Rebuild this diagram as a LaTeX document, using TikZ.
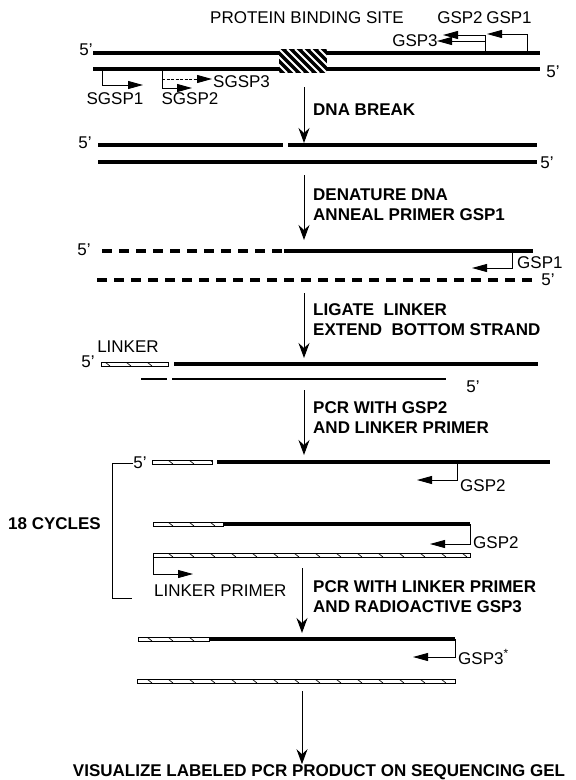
\documentclass[tikz,border=0pt]{standalone}
\usepackage{fontspec}
\setmainfont{Liberation Sans}
\usetikzlibrary{arrows.meta,positioning}
\definecolor{ink}{HTML}{000000}
\newcommand\linkerbar[3]{\draw[linkerbox] (#1,#3-2) rectangle (#2,#3+2);
\begin{scope}\clip (#1,#3-2) rectangle (#2,#3+2);\foreach \t in {0,21,...,580}{\draw[ink,line width=0.7pt] (\t,#3-2)--(\t+5,#3+2);}\end{scope}}

\begin{document}
\begin{tikzpicture}[x=1pt,y=-1pt,every node/.style={inner sep=0pt,font=\fontsize{17}{20}\selectfont},
bold/.style={font=\fontsize{17}{20}\selectfont\bfseries,align=left,anchor=west},
strand/.style={ink,line width=3.4pt},dashes/.style={dash pattern=on 10pt off 7pt},
thin/.style={ink,line width=0.9pt},primer/.style={ink,line width=0.9pt,-{Triangle[length=15pt,width=8pt]}},
flow/.style={ink,line width=1pt,-{Stealth[length=15pt,width=11pt,inset=5pt]}},
linkerbox/.style={draw=ink,fill=white,line width=0.8pt}]
\useasboundingbox (0,0) rectangle (576,780);
\draw[strand] (93,53)--(540,53);\draw[strand] (93,69)--(540,69);
\fill[ink] (279,49) rectangle (327,73);
\begin{scope}\clip (279,49) rectangle (327,73);\foreach \t in {255,263,...,327}{\draw[white,line width=1.8pt] (\t,49)--(\t+24,73);}\end{scope}
\node (site) at (307,18){PROTEIN BINDING SITE};
\node (top5) at (86,50){5'};\node (bot5) at (553,72){5'};
\coordinate (g1) at (527,53);\coordinate (g2) at (485,53);\coordinate (g3) at (485,41);
\draw[primer] (g1) |- ++(-40,-19);\draw[primer] (g2) |- ++(-42,-18);\draw[primer] (g3) -- ++(-48,0);
\node (lg2) at (460,18){GSP2};\node (lg1) at (509,18){GSP1};\node (lg3) at (415,41){GSP3};
\coordinate (s1) at (102,69);\coordinate (s2) at (162,69);\coordinate (s3) at (162,79);
\draw[primer] (s1) |- ++(41,16);\draw[primer] (s2) |- ++(30,19);\draw[primer,dash pattern=on 3pt off 1.5pt] (s3) -- ++(50,0);
\node (ls1) at (115,99){SGSP1};\node (ls2) at (190,99){SGSP2};\node[anchor=west] (ls3) at (213,82){SGSP3};
\coordinate (f1a) at (304,87);\coordinate (f1b) at (304,143);\draw[flow] (f1a)--(f1b);
\node[bold] (brk) at (313,110){DNA BREAK};
\draw[strand] (98,145)--(283,145) (288,145)--(537,145);\draw[strand] (98,162)--(537,162);
\node (s2top5) at (85,143){5'};\node (s2bot5) at (547,163){5'};
\coordinate (f2a) at (304,175);\coordinate (f2b) at (304,240);\draw[flow] (f2a)--(f2b);
\node[bold] (den) at (313,205){DENATURE DNA\\ANNEAL PRIMER GSP1};
\draw[strand,dashes] (102,251)--(283,251);\draw[strand] (284,251)--(533,251);\draw[strand,dashes] (97,280)--(537,280);
\node (s3top5) at (84,250){5'};\node (s3bot5) at (548,280){5'};
\coordinate (p1) at (512,251);\draw[primer] (p1) |- ++(-40,17);\node[anchor=west] (lp1) at (517,263){GSP1};
\coordinate (f3a) at (304,293);\coordinate (f3b) at (304,358);\draw[flow] (f3a)--(f3b);
\node[bold] (lig) at (313,320){LIGATE\ \ LINKER\\EXTEND\ \ BOTTOM STRAND};
\node (lnk) at (128,347){LINKER};
\linkerbar{101}{168}{364}
\draw[strand] (174,364)--(538,364);\draw[ink,line width=2pt] (141,379)--(167,379) (172,379)--(446,379);
\node (s4top5) at (88,362){5'};\node (s4bot5) at (473,387){5'};
\coordinate (f4a) at (304,390);\coordinate (f4b) at (304,455);\draw[flow] (f4a)--(f4b);
\node[bold] (pcr1) at (313,418){PCR WITH GSP2\\AND LINKER PRIMER};
\node (s5top5) at (140,463){5'};
\linkerbar{152}{212}{462}
\draw[strand] (217,462)--(550,462);
\coordinate (q1) at (457,462);\draw[primer] (q1) |- ++(-40,18);\node[anchor=west] (lq1) at (460,486){GSP2};
\linkerbar{153}{223}{524}
\draw[strand] (223,524)--(470,524);
\coordinate (q2) at (470,524);\draw[primer] (q2) |- ++(-40,20);\node[anchor=west] (lq2) at (473,543){GSP2};
\linkerbar{153}{470}{555}
\coordinate (q3) at (153,557);\draw[primer] (q3) |- ++(40,17);\node[anchor=west] (lq3) at (154,591){LINKER PRIMER};
\draw[thin] (s5top5.west) -| (112,598) -- ++(20,0);
\node[bold] (cyc) at (8,524){18 CYCLES};
\coordinate (f5a) at (302,568);\coordinate (f5b) at (302,633);\draw[flow] (f5a)--(f5b);
\node[bold] (pcr2) at (313,597){PCR WITH LINKER PRIMER\\AND RADIOACTIVE GSP3};
\linkerbar{138}{209}{639}
\draw[strand] (209,639)--(455,639);
\coordinate (q4) at (455,639);\draw[primer] (q4) |- ++(-42,18);\node[anchor=west] (lq4) at (458,657){GSP3\textsuperscript{*}};
\linkerbar{137}{455}{681}
\coordinate (f6a) at (302,691);\node[font=\fontsize{17}{20}\selectfont\bfseries] (vis) at (319,772){VISUALIZE LABELED PCR PRODUCT ON SEQUENCING GEL};
\draw[flow] (f6a)--(f6a |- vis.north);
\end{tikzpicture}
\end{document}
